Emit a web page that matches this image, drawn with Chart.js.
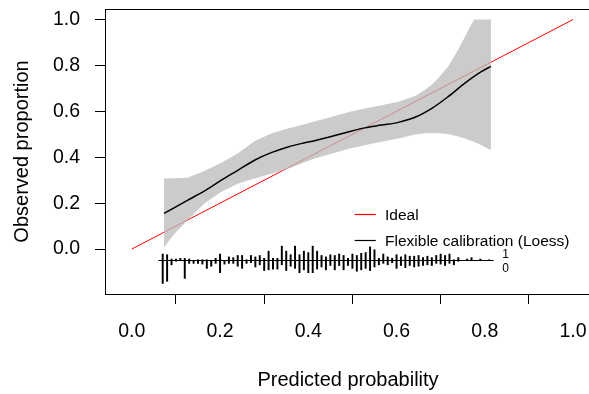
<!DOCTYPE html>
<html lang="en">
<head>
  <meta charset="UTF-8">
  <title>Calibration plot</title>
  <script src="https://cdn.jsdelivr.net/npm/chart.js"></script>
  <style>
    body {
      margin: 0;
      background: #fff;
      overflow: hidden;
    }
  </style>
</head>
<body>

<canvas id="calib" width="600" height="394"></canvas>

<script>
  const xTicks = [0, 0.2, 0.4, 0.6, 0.8, 1.0];
  const yTicks = [0, 0.2, 0.4, 0.6, 0.8, 1.0];

  // flexible calibration (loess) curve
  const loessX = [0.073, 0.126, 0.164, 0.202, 0.240, 0.278, 0.316, 0.354, 0.392, 0.414, 0.452, 0.490, 0.528, 0.566, 0.604, 0.642, 0.680, 0.717, 0.755, 0.793, 0.814];
  const loessY = [0.155, 0.212, 0.252, 0.299, 0.343, 0.387, 0.420, 0.445, 0.463, 0.472, 0.490, 0.510, 0.528, 0.540, 0.552, 0.574, 0.613, 0.664, 0.723, 0.774, 0.796];

  // confidence band
  const bandX     = [0.073, 0.096, 0.126, 0.149, 0.164, 0.202, 0.240, 0.278, 0.316, 0.354, 0.392, 0.414, 0.452, 0.490, 0.528, 0.566, 0.604, 0.642, 0.664, 0.680, 0.695, 0.717, 0.740, 0.755, 0.763, 0.776, 0.793, 0.814];
  const bandUpper = [0.307, 0.308, 0.311, 0.328, 0.340, 0.375, 0.416, 0.470, 0.503, 0.525, 0.544, 0.556, 0.575, 0.596, 0.612, 0.627, 0.642, 0.667, 0.693, 0.716, 0.745, 0.795, 0.869, 0.925, 0.956, 1.000, 1.000, 1.000];
  const bandLower = [0.007, 0.066, 0.124, 0.170, 0.197, 0.248, 0.285, 0.307, 0.328, 0.350, 0.378, 0.395, 0.415, 0.436, 0.452, 0.467, 0.482, 0.499, 0.504, 0.506, 0.505, 0.501, 0.490, 0.482, 0.476, 0.466, 0.452, 0.430];

  // rug: bins of predicted probability, counts of outcome 1 (up) and 0 (down)
  const binX = [0.07, 0.08, 0.09, 0.10, 0.11, 0.12, 0.13, 0.14, 0.15, 0.16, 0.17, 0.18, 0.19, 0.20, 0.21, 0.22, 0.23, 0.24, 0.25, 0.26,
                0.27, 0.28, 0.29, 0.30, 0.31, 0.32, 0.33, 0.34, 0.35, 0.36, 0.37, 0.38, 0.39, 0.40, 0.41, 0.42, 0.43, 0.44, 0.45, 0.46,
                0.47, 0.48, 0.49, 0.50, 0.51, 0.52, 0.53, 0.54, 0.55, 0.56, 0.57, 0.58, 0.59, 0.60, 0.61, 0.62, 0.63, 0.64, 0.65, 0.66,
                0.67, 0.68, 0.69, 0.70, 0.71, 0.72, 0.73, 0.74, 0.75, 0.76, 0.77, 0.78, 0.79, 0.80, 0.81];
  const events1 = [9, 8, 2, 2, 3, 3, 2, 0, 1, 1, 1, 0, 3, 9, 0, 5, 4, 7, 7, 1,
                   7, 5, 7, 3, 13, 3, 3, 20, 13, 8, 20, 8, 13, 11, 20, 13, 7, 5, 8, 7,
                   9, 7, 3, 9, 7, 10, 11, 19, 15, 3, 9, 5, 3, 8, 5, 8, 6, 6, 7, 4,
                   6, 4, 7, 9, 7, 9, 1, 4, 0, 2, 4, 0, 2, 0, 1];
  const events0 = [32, 29, 6, 1, 0, 25, 4, 4, 4, 5, 11, 8, 4, 17, 5, 4, 4, 8, 11, 4,
                   3, 9, 6, 14, 13, 12, 12, 6, 14, 8, 11, 17, 13, 17, 17, 12, 9, 13, 7, 13,
                   7, 13, 7, 11, 15, 13, 11, 14, 9, 6, 4, 6, 3, 11, 7, 10, 7, 9, 8, 7,
                   6, 7, 4, 5, 7, 4, 6, 1, 0, 0, 0, 0, 0, 0, 0];

  const rugLine = -0.05;
  const maxCount = Math.max(...events1, ...events0);
  const rugBars = [];
  binX.forEach((x, i) => {
    if (events1[i] + events0[i] === 0) return;
    rugBars.push({
      x: x,
      y: [rugLine - 0.1 * events0[i] / maxCount, rugLine + 0.1 * events1[i] / maxCount]
    });
  });
  const rugStart = Math.min(...binX) - 0.01;
  const rugEnd = Math.max(...binX) + 0.01;

  const font = '"Liberation Sans", Arial, sans-serif';

  const decor = {
    id: 'decor',
    afterDraw(chart) {
      const { ctx, chartArea: a, scales: { x, y } } = chart;
      ctx.save();
      ctx.strokeStyle = '#000';
      ctx.lineWidth = 1;
      ctx.strokeRect(a.left + 0.5, a.top + 0.5, a.right - a.left, a.bottom - a.top);

      // legend
      const lx0 = x.getPixelForValue(0.505), lx1 = x.getPixelForValue(0.553);
      const items = [['Ideal', 'rgb(255,0,0)', 0.151], ['Flexible calibration (Loess)', 'rgb(0,0,0)', 0.041]];
      ctx.font = '15.5px ' + font;
      ctx.textBaseline = 'middle';
      ctx.textAlign = 'left';
      items.forEach(([label, col, yv]) => {
        const py = Math.round(y.getPixelForValue(yv)) + 0.5;
        ctx.beginPath();
        ctx.strokeStyle = col;
        ctx.lineWidth = 1.2;
        ctx.moveTo(lx0, py);
        ctx.lineTo(lx1, py);
        ctx.stroke();
        ctx.fillStyle = '#000';
        ctx.fillText(label, x.getPixelForValue(0.574), py + 1);
      });

      // rug labels
      ctx.font = '12px ' + font;
      ctx.textAlign = 'center';
      ctx.fillText('1', x.getPixelForValue(rugEnd + 0.027), y.getPixelForValue(rugLine + 0.027));
      ctx.fillText('0', x.getPixelForValue(rugEnd + 0.027), y.getPixelForValue(rugLine - 0.034));
      ctx.restore();
    }
  };

  const noEdgePadding = ax => {
    ax.paddingTop = 0;
    ax.paddingBottom = 0;
    ax.paddingLeft = 0;
    ax.paddingRight = 0;
  };

  new Chart(document.getElementById('calib'), {
    type: 'line',
    data: {
      datasets: [
        {
          label: 'Flexible calibration (Loess)',
          data: loessX.map((v, i) => ({ x: v, y: loessY[i] })),
          borderColor: '#000',
          borderWidth: 1.5,
          pointRadius: 0,
          cubicInterpolationMode: 'monotone',
          fill: false
        },
        {
          type: 'bar',
          label: 'rug',
          data: rugBars,
          backgroundColor: '#000',
          barThickness: 1.3,
          grouped: false
        },
        {
          label: 'rug line',
          data: [{ x: rugStart, y: rugLine }, { x: rugEnd, y: rugLine }],
          borderColor: '#000',
          borderWidth: 1,
          pointRadius: 0,
          fill: false
        },
        {
          label: 'upper',
          data: bandX.map((v, i) => ({ x: v, y: bandUpper[i] })),
          borderWidth: 0,
          borderColor: 'rgba(0,0,0,0)',
          pointRadius: 0,
          backgroundColor: 'rgba(185,185,185,0.75)',
          fill: '+1'
        },
        {
          label: 'lower',
          data: bandX.map((v, i) => ({ x: v, y: bandLower[i] })),
          borderWidth: 0,
          borderColor: 'rgba(0,0,0,0)',
          pointRadius: 0,
          fill: false
        },
        {
          label: 'Ideal',
          data: [{ x: 0, y: 0 }, { x: 1, y: 1 }],
          borderColor: '#ff0000',
          borderWidth: 1,
          pointRadius: 0,
          fill: false
        }
      ]
    },
    options: {
      responsive: false,
      animation: false,
      layout: { padding: { top: 9, right: 9, left: 0, bottom: 0 } },
      plugins: {
        legend: { display: false },
        tooltip: { enabled: false }
      },
      scales: {
        x: {
          type: 'linear',
          min: -0.0608,
          max: 1.0408,
          offset: false,
          afterBuildTicks: ax => { ax.ticks = xTicks.map(v => ({ value: v })); },
          afterFit: ax => { ax.height = 100; noEdgePadding(ax); },
          grid: { drawOnChartArea: false, tickLength: 10, tickColor: '#000' },
          border: { display: false },
          ticks: {
            color: '#000',
            padding: 16,
            maxRotation: 0,
            font: { family: font, size: 19.5 },
            callback: v => v.toFixed(1)
          },
          title: {
            display: true,
            text: 'Predicted probability',
            color: '#000',
            font: { family: font, size: 20 },
            padding: { bottom: 2 }
          }
        },
        y: {
          min: -0.196,
          max: 1.046,
          afterBuildTicks: ax => { ax.ticks = yTicks.map(v => ({ value: v })); },
          afterFit: ax => { ax.width = 105; noEdgePadding(ax); },
          grid: { drawOnChartArea: false, tickLength: 10, tickColor: '#000' },
          border: { display: false },
          ticks: {
            color: '#000',
            padding: 15,
            font: { family: font, size: 19.5 },
            callback: v => v.toFixed(1)
          },
          title: {
            display: true,
            text: 'Observed proportion',
            color: '#000',
            font: { family: font, size: 20 },
            padding: { top: 10 }
          }
        }
      }
    },
    plugins: [decor]
  });
</script>
</body>
</html>
